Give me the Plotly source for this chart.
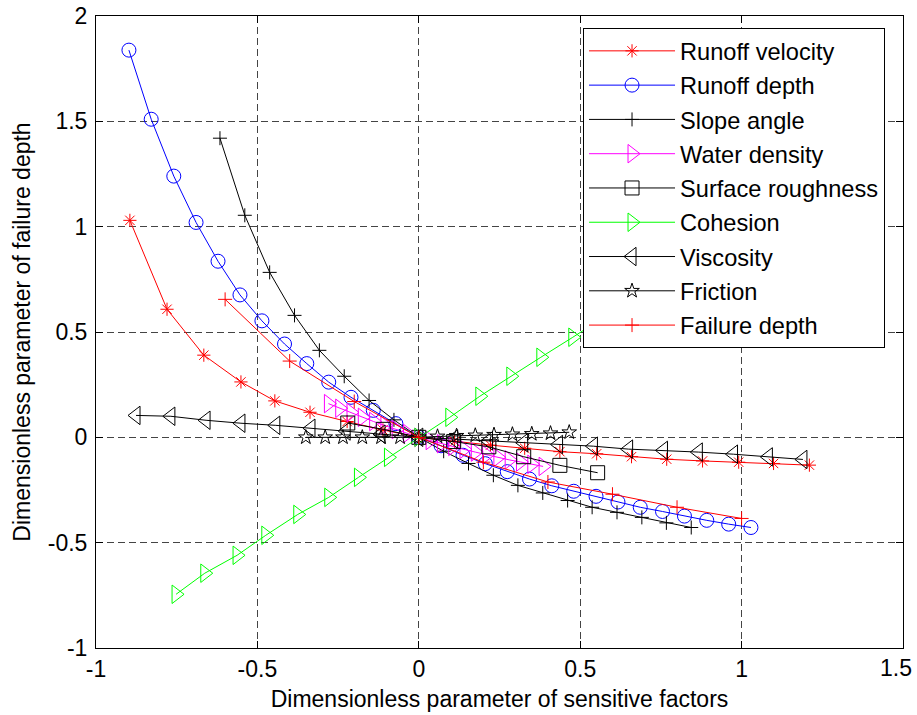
import plotly.graph_objects as go

# ---------------- data ----------------
rv_x = [-0.895, -0.78, -0.666, -0.551, -0.446, -0.337, -0.222, -0.111, 0.0,
        0.111, 0.222, 0.328, 0.437, 0.551, 0.659, 0.768, 0.879, 0.991, 1.099, 1.21]
rv_y = [1.03, 0.608, 0.39, 0.263, 0.173, 0.119, 0.075, 0.035, 0.0,
        -0.02, -0.037, -0.052, -0.068, -0.078, -0.092, -0.104, -0.112, -0.118, -0.124, -0.132]

rd_x = [-0.898, -0.829, -0.759, -0.69, -0.622, -0.554, -0.486, -0.416, -0.347, -0.279,
        -0.21, -0.141, -0.071, 0.0, 0.069, 0.137, 0.206, 0.274, 0.343, 0.412, 0.48,
        0.549, 0.617, 0.686, 0.755, 0.823, 0.892, 0.96, 1.029]
rd_y = [1.838, 1.51, 1.24, 1.02, 0.836, 0.676, 0.553, 0.443, 0.35, 0.262,
        0.19, 0.128, 0.065, 0.0, -0.04, -0.085, -0.125, -0.163, -0.198, -0.23, -0.256,
        -0.28, -0.307, -0.332, -0.352, -0.374, -0.394, -0.412, -0.428]

sa_x = [-0.616, -0.539, -0.462, -0.385, -0.308, -0.231, -0.154, -0.077, 0.0,
        0.077, 0.154, 0.231, 0.307, 0.384, 0.461, 0.537, 0.614, 0.691, 0.767, 0.844]
sa_y = [1.42, 1.054, 0.783, 0.579, 0.413, 0.29, 0.175, 0.083, 0.0,
        -0.066, -0.124, -0.18, -0.228, -0.264, -0.3, -0.332, -0.356, -0.38, -0.406, -0.428]

wd_x = [-0.28, -0.245, -0.21, -0.175, -0.14, -0.105, -0.07, -0.035, 0.0,
        0.035, 0.07, 0.105, 0.14, 0.175, 0.21, 0.245, 0.28, 0.315, 0.35, 0.385]
wd_y = [0.16, 0.138, 0.118, 0.095, 0.075, 0.056, 0.037, 0.018, 0.0,
        -0.015, -0.03, -0.043, -0.057, -0.07, -0.083, -0.095, -0.107, -0.117, -0.128, -0.138]

sr_x = [-0.22, -0.11, 0.0, 0.108, 0.217, 0.325, 0.437, 0.554]
sr_y = [0.068, 0.038, 0.0, -0.02, -0.045, -0.092, -0.133, -0.168]

co_x = [-0.752, -0.663, -0.563, -0.474, -0.375, -0.279, -0.187, -0.094, 0.0,
        0.096, 0.189, 0.285, 0.378, 0.477, 0.573]
co_y = [-0.745, -0.645, -0.56, -0.465, -0.366, -0.285, -0.19, -0.095, 0.0,
        0.095, 0.195, 0.29, 0.38, 0.475, 0.57]

vi_x = [-0.876, -0.768, -0.659, -0.551, -0.443, -0.334, -0.225, -0.117, 0.0,
        0.108, 0.216, 0.325, 0.433, 0.541, 0.65, 0.758, 0.866, 0.975, 1.083, 1.19]
vi_y = [0.104, 0.1, 0.081, 0.067, 0.057, 0.043, 0.03, 0.015, 0.0,
        -0.008, -0.017, -0.026, -0.034, -0.042, -0.056, -0.062, -0.07, -0.08, -0.093, -0.105]

fr_x = [-0.35, -0.29, -0.235, -0.175, -0.117, -0.058, 0.0,
        0.058, 0.117, 0.175, 0.233, 0.29, 0.35, 0.408, 0.466]
fr_y = [0.0, 0.0, 0.0, 0.0, 0.0, 0.0, 0.0,
        0.004, 0.007, 0.009, 0.012, 0.014, 0.016, 0.019, 0.024]

fd_x = [-0.6, -0.4, -0.2, 0.0, 0.2, 0.4, 0.6, 0.8, 1.0]
fd_y = [0.655, 0.362, 0.17, 0.0, -0.118, -0.212, -0.27, -0.332, -0.385]

tick_x = [-1, -0.5, 0, 0.5, 1, 1.5]
tick_x_text = ["-1", "-0.5", "0", "0.5", "1", ""]
last_x_tick = 1.5
last_x_text = "1.5"
tick_y = [-1, -0.5, 0, 0.5, 1, 1.5, 2]
tick_y_text = ["-1", "-0.5", "0", "0.5", "1", "1.5", "2"]

series = [
    ("Runoff velocity", rv_x, rv_y, "#FF0000", "asterisk-open", 11),
    ("Runoff depth", rd_x, rd_y, "#0000FF", "circle-open", 14),
    ("Slope angle", sa_x, sa_y, "#000000", "cross-thin-open", 10),
    ("Water density", wd_x, wd_y, "#FF00FF", "triangle-right-open", 16),
    ("Surface roughness", sr_x, sr_y, "#000000", "square-open", 14),
    ("Cohesion", co_x, co_y, "#00FF00", "triangle-right-open", 16),
    ("Viscosity", vi_x, vi_y, "#000000", "triangle-left-open", 16),
    ("Friction", fr_x, fr_y, "#000000", "star-open", 11),
    ("Failure depth", fd_x, fd_y, "#FF0000", "cross-thin-open", 10),
]

FONT = "Liberation Sans, Arial, sans-serif"

fig = go.Figure()
for i, (name, xs, ys, col, sym, sz) in enumerate(series):
    fig.add_trace(go.Scatter(
        x=xs, y=ys, name=name, mode="lines+markers",
        legendgroup="g%d" % i,
        line=dict(color=col, width=1),
        marker=dict(symbol=sym, size=sz, color=col,
                    line=dict(color=col, width=1)),
    ))

axis_common = dict(
    showline=True, linecolor="black", linewidth=1, mirror="ticks",
    ticks="inside", ticklen=7, tickcolor="black", tickwidth=1,
    showgrid=True, gridcolor="#444444", gridwidth=1, griddash="7px,4px",
    zeroline=False,
    tickfont=dict(family=FONT, size=23, color="black"),
    automargin=False,
    ticklabeloverflow="allow",
)

fig.update_xaxes(range=[-1, 1.5], tickvals=tick_x, ticktext=tick_x_text,
                 title=dict(text="Dimensionless parameter of sensitive factors",
                            font=dict(family=FONT, size=23, color="black"), standoff=10),
                 ticklabelstandoff=0, **axis_common)
fig.update_yaxes(range=[-1, 2], tickvals=tick_y, ticktext=tick_y_text,
                 title=dict(text="Dimensionless parameter of failure depth",
                            font=dict(family=FONT, size=23, color="black"), standoff=10),
                 ticklabelstandoff=3, **axis_common)

# last x tick label, nudged left so it stays inside the figure (as in the reference)
fig.add_annotation(x=last_x_tick, xref="x", y=0, yref="paper",
                   text=last_x_text, showarrow=False,
                   xanchor="right", yanchor="middle", xshift=11, yshift=-20,
                   font=dict(family=FONT, size=23, color="black"))

fig.update_layout(
    width=917, height=715,
    margin=dict(l=96, r=14, t=16, b=67),
    paper_bgcolor="white", plot_bgcolor="white",
    font=dict(family=FONT, size=23, color="black"),
    showlegend=True,
    legend=dict(
        x=0.6035, y=0.981, xanchor="left", yanchor="top",
        bgcolor="white", bordercolor="black", borderwidth=1,
        font=dict(family=FONT, size=23.6, color="black"),
        traceorder="grouped", tracegroupgap=0.6, itemwidth=86,
        itemsizing="trace",
    ),
)

fig.write_html("out.html",
               config={"displayModeBar": False},
               post_script="document.body.style.margin='0';document.body.style.overflow='hidden';")
